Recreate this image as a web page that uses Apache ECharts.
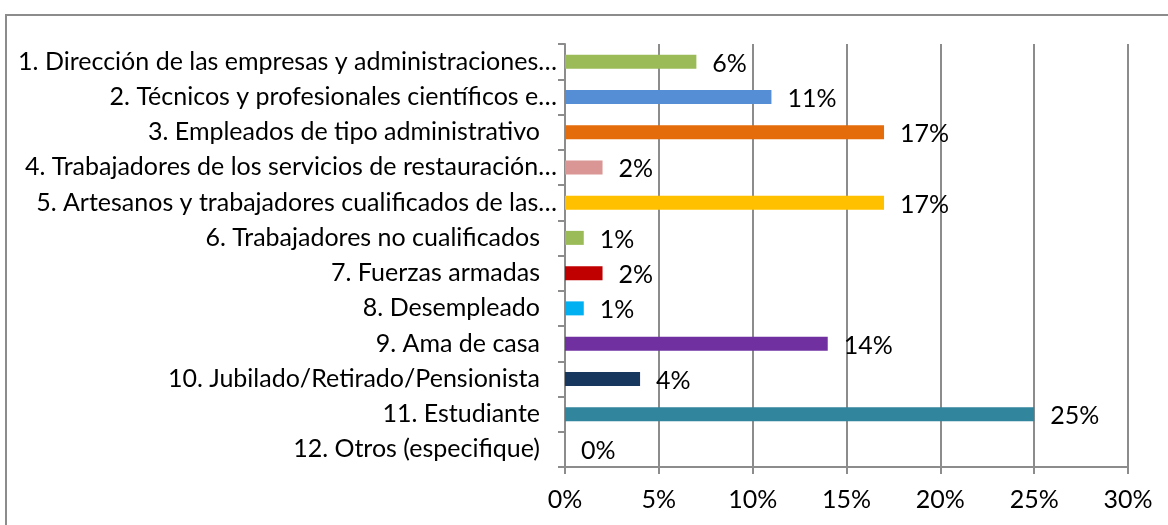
<!DOCTYPE html>
<html>
<head>
<meta charset="utf-8">
<script src="https://cdn.jsdelivr.net/npm/echarts@6/dist/echarts.min.js"></script>
<style>
  html, body { margin: 0; padding: 0; background: #fff; overflow: hidden; }
  #chart { width: 1168px; height: 525px; }
</style>
</head>
<body>
<div id="chart"></div>
<script>
// categorias (orden de arriba hacia abajo)
const categories = [
  '1. Dirección de las empresas y administraciones…',
  '2. Técnicos y profesionales científicos e…',
  '3. Empleados de tipo administrativo',
  '4. Trabajadores de los servicios de restauración…',
  '5. Artesanos y trabajadores cualificados de las…',
  '6. Trabajadores no cualificados',
  '7. Fuerzas armadas',
  '8. Desempleado',
  '9. Ama de casa',
  '10. Jubilado/Retirado/Pensionista',
  '11. Estudiante',
  '12. Otros (especifique)'
]
// largo de las barras (%)
const values = [7, 11, 17, 2, 17, 1, 2, 1, 14, 4, 25, 0]
// etiquetas tal como aparecen
const valueLabels = ['6%', '11%', '17%', '2%', '17%', '1%', '2%', '1%', '14%', '4%', '25%', '0%']
const xTicks = [0, 5, 10, 15, 20, 25, 30]

const colors = ['#9BBB59', '#558ED5', '#E46C0A', '#D99694', '#FFC000', '#9BBB59',
  '#C00000', '#00B0F0', '#7030A0', '#17375E', '#31859C', '#4F81BD']

const FONT = 'Lato, "Open Sans", sans-serif'
const FS = 25
const GRAY = '#8c8c8c'

let chart = echarts.init(document.getElementById('chart'), null, { renderer: 'canvas' })

chart.setOption({
  animation: false,
  graphic: [{
    type: 'rect',
    shape: { x: 6, y: 15, width: 1200, height: 560 },
    style: { fill: 'none', stroke: GRAY, lineWidth: 2 },
    silent: true
  }],
  grid: {
    left: 565,
    right: 40,
    top: 44,
    bottom: 58,
    containLabel: false
  },
  xAxis: {
    type: 'value',
    min: xTicks[0],
    max: xTicks[xTicks.length - 1],
    interval: xTicks[1] - xTicks[0],
    axisLine: { show: true, lineStyle: { color: GRAY, width: 2 } },
    axisTick: { show: true, length: 7, lineStyle: { color: GRAY, width: 2 } },
    splitLine: { show: true, lineStyle: { color: GRAY, width: 2 } },
    axisLabel: {
      formatter: '{value}%',
      color: '#000',
      fontFamily: FONT,
      fontSize: FS,
      margin: 20
    }
  },
  yAxis: {
    type: 'category',
    inverse: true,
    data: categories,
    axisLine: { show: true, lineStyle: { color: GRAY, width: 2 } },
    axisTick: { show: true, length: 7, lineStyle: { color: GRAY, width: 2 } },
    axisLabel: {
      color: '#000',
      fontFamily: FONT,
      fontSize: FS,
      margin: 8,
      formatter: function(v) {
        // las etiquetas sin puntos suspensivos quedan mas separadas del eje
        return v.endsWith('…') ? v : '{p|' + v + '}'
      },
      rich: {
        p: { color: '#000', fontFamily: FONT, fontSize: FS, padding: [0, 17, 0, 0] }
      }
    }
  },
  series: [{
    type: 'bar',
    barWidth: 14,
    data: values.map((v, i) => ({
      value: v,
      itemStyle: { color: colors[i] }
    })),
    label: {
      show: true,
      position: 'right',
      distance: 16,
      offset: [0, 2],
      color: '#000',
      fontFamily: FONT,
      fontSize: FS,
      formatter: p => valueLabels[p.dataIndex]
    }
  }]
})
</script>
</body>
</html>
